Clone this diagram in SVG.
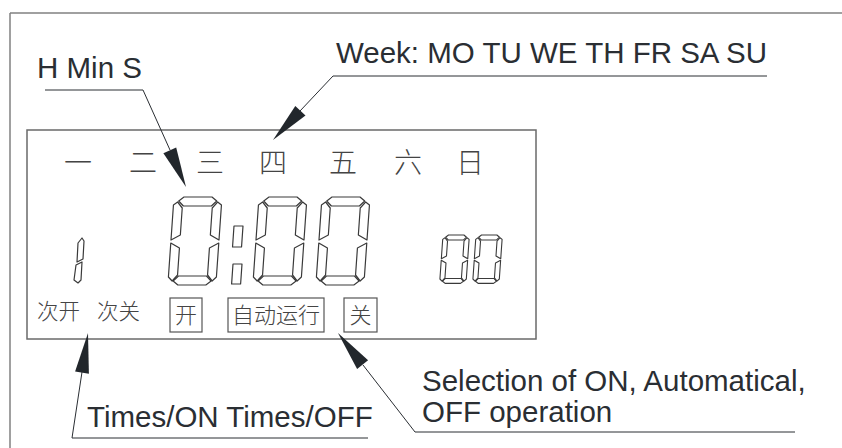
<svg xmlns="http://www.w3.org/2000/svg" width="842" height="448" viewBox="0 0 842 448">
<style>
.frame{fill:none;stroke:#808080;stroke-width:1.5}
.box{fill:none;stroke:#6a6a6a;stroke-width:1.5}
.lead{fill:none;stroke:#2a2e33;stroke-width:1}
.head{fill:#22272c;stroke:none}
.lbl{font-family:"Liberation Sans",Arial,sans-serif;font-size:29.5px;fill:#2a2e33}
.cn{font-family:"Noto Sans CJK SC",sans-serif;font-weight:300;fill:#444}
.seg{fill:none;stroke:#3a3a3a;stroke-width:1.2;stroke-linejoin:round}
.kbox{fill:none;stroke:#555;stroke-width:1.2}
</style>
<defs>
<g id="digit" fill="none" stroke="#3a3a3a" stroke-linejoin="round">
<polygon points="5,4 10,0 38,0 43,4 38,9 10,9"/>
<polygon points="0,8 4,5 9,11 9,38 0,43"/>
<polygon points="48,8 44,5 39,11 39,38 48,43"/>
<polygon points="0,46 9,51 9,78 4,84 0,80"/>
<polygon points="48,46 39,51 39,78 44,84 48,80"/>
<polygon points="5,84 10,79 38,79 43,84 38,88 10,88"/>
</g>
</defs>
<g id="frame">
<line class="frame" x1="10" y1="13" x2="842" y2="13"/>
<line class="frame" x1="10" y1="13" x2="10" y2="448"/>
</g>
<g id="display">
<rect class="box" x="27" y="130" width="509" height="209"/>
</g>
<g id="weekdays" class="cn" font-size="28" text-anchor="middle">
<text x="78" y="173">一</text>
<text x="143" y="173">二</text>
<text x="210" y="173">三</text>
<text x="273" y="173">四</text>
<text x="343" y="173">五</text>
<text x="408" y="173">六</text>
<text x="470" y="173">日</text>
</g>
<g id="clock" class="seg">
<use href="#digit" stroke-width="1.2" transform="translate(174,197) skewX(-4)"/>
<g transform="translate(234,226) skewX(-4)"><polygon points="0,0 9,0 9,21 0,21"/></g>
<g transform="translate(233,264) skewX(-4)"><polygon points="0,0 9,0 9,20 0,20"/></g>
<use href="#digit" stroke-width="1.2" transform="translate(259,197) skewX(-4)"/>
<use href="#digit" stroke-width="1.2" transform="translate(322,197) skewX(-4)"/>
</g>
<g id="seconds" class="seg">
<use href="#digit" stroke-width="2" transform="translate(443,235) scale(0.55) skewX(-4)"/>
<use href="#digit" stroke-width="2" transform="translate(476,235) scale(0.55) skewX(-4)"/>
</g>
<g id="times-digit" class="seg">
<polygon points="78,243 82,238 84,241 83,259 77,262"/>
<polygon points="76,265 82,262 81,280 78,283 74,280"/>
</g>
<g id="times-labels" class="cn" font-size="21.5">
<text x="37" y="319">次开</text>
<text x="97" y="319">次关</text>
</g>
<g id="key-on">
<rect class="kbox" x="170" y="298" width="32" height="34"/>
<text class="cn" x="186" y="323" font-size="22" text-anchor="middle">开</text>
</g>
<g id="key-auto">
<rect class="kbox" x="228" y="298" width="96" height="34"/>
<text class="cn" x="276" y="323" font-size="22" text-anchor="middle">自动运行</text>
</g>
<g id="key-off">
<rect class="kbox" x="344" y="298" width="33" height="34"/>
<text class="cn" x="360.5" y="323" font-size="22" text-anchor="middle">关</text>
</g>
<g id="label-hms">
<text class="lbl" x="37" y="78">H Min S</text>
</g>
<g id="label-week">
<text class="lbl" x="336" y="63">Week: MO TU WE TH FR SA SU</text>
</g>
<g id="label-times">
<text class="lbl" x="87" y="427">Times/ON Times/OFF</text>
</g>
<g id="label-selection">
<text class="lbl" x="422" y="391">Selection of ON, Automatical,</text>
<text class="lbl" x="422" y="422">OFF operation</text>
</g>
<g id="connectors">
<polyline class="lead" points="45,90 143,90 170,150"/>
<polygon class="head" points="186,187 163.4,153.2 176.2,147.6"/>
<polyline class="lead" points="767,76 333,76 300,111"/>
<polygon class="head" points="273,140 295.3,106 305.5,115.6"/>
<polyline class="lead" points="368,438 72,438 82,372"/>
<polygon class="head" points="88,333 75.1,371.5 88.9,373.7"/>
<polyline class="lead" points="795,432 415,432 363,365"/>
<polygon class="head" points="338,333 357.1,368.9 368.1,360.3"/>
</g>
</svg>
